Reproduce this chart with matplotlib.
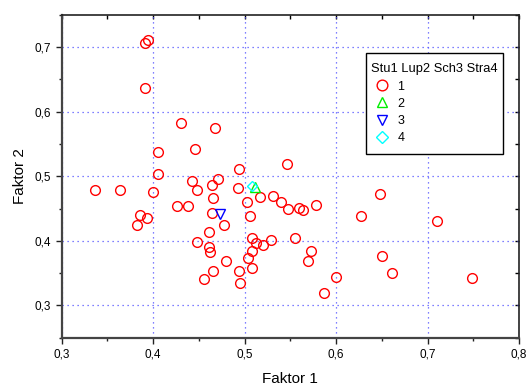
import matplotlib
matplotlib.use("Agg")
import matplotlib.pyplot as plt
from matplotlib.ticker import MultipleLocator, FuncFormatter

plt.rcParams['font.family'] = ['Liberation Sans', 'DejaVu Sans']

# group 1 (Stu1) - Faktor 1 / Faktor 2 scores
f1_g1 = [0.391, 0.394, 0.391, 0.430, 0.468, 0.405, 0.446, 0.405, 0.494, 0.443,
         0.471, 0.464, 0.448, 0.337, 0.364, 0.400, 0.493, 0.466, 0.426, 0.438,
         0.464, 0.386, 0.393, 0.382, 0.477, 0.461, 0.448, 0.461, 0.462, 0.480,
         0.466, 0.456, 0.494, 0.495, 0.503, 0.506, 0.508, 0.513, 0.508, 0.504,
         0.508, 0.517, 0.546, 0.531, 0.540, 0.548, 0.560, 0.564, 0.578, 0.648,
         0.627, 0.710, 0.520, 0.529, 0.555, 0.573, 0.569, 0.650, 0.661, 0.600,
         0.587, 0.749]
f2_g1 = [0.706, 0.711, 0.636, 0.583, 0.574, 0.537, 0.542, 0.504, 0.511, 0.492,
         0.496, 0.486, 0.479, 0.479, 0.479, 0.475, 0.482, 0.466, 0.454, 0.454,
         0.443, 0.440, 0.436, 0.425, 0.424, 0.414, 0.398, 0.390, 0.382, 0.369,
         0.353, 0.341, 0.353, 0.335, 0.460, 0.439, 0.405, 0.396, 0.385, 0.373,
         0.358, 0.468, 0.519, 0.469, 0.460, 0.450, 0.451, 0.447, 0.455, 0.472,
         0.439, 0.430, 0.394, 0.402, 0.405, 0.385, 0.369, 0.377, 0.350, 0.344,
         0.319, 0.343]
# group 2 (Lup2), 3 (Sch3), 4 (Stra4)
f1_g2 = [0.511]
f2_g2 = [0.484]
f1_g3 = [0.473]
f2_g3 = [0.441]
f1_g4 = [0.508]
f2_g4 = [0.4855]

fig = plt.figure(figsize=(5.28, 3.88), dpi=100)
ax = fig.add_axes([0.1167, 0.1296, 0.8663, 0.8325])

ms = 7
ax.plot(f1_g1, f2_g1, 'o', ms=ms, mfc='none', mec='red', mew=1.0, label='1')
ax.plot(f1_g2, f2_g2, '^', ms=ms, mfc='none', mec='#00ee00', mew=1.0, label='2')
ax.plot(f1_g3, f2_g3, 'v', ms=ms, mfc='none', mec='blue', mew=1.0, label='3')
ax.plot(f1_g4, f2_g4, 'D', ms=ms * 0.8, mfc='none', mec='cyan', mew=1.0, label='4')

ax.set_xlim(0.3, 0.8)
ax.set_ylim(0.25, 0.75)
ax.xaxis.set_major_locator(MultipleLocator(0.1))
ax.xaxis.set_minor_locator(MultipleLocator(0.05))
ax.yaxis.set_major_locator(MultipleLocator(0.1))
ax.yaxis.set_minor_locator(MultipleLocator(0.05))
comma = FuncFormatter(lambda v, p: ('%.1f' % v).replace('.', ','))
ax.xaxis.set_major_formatter(comma)
ax.yaxis.set_major_formatter(comma)

ax.grid(True, which='major', color='#5555ff', linestyle=(0, (1, 3)), linewidth=0.9)
ax.set_axisbelow(True)

ax.tick_params(which='both', direction='out', top=False, right=False,
               labelsize=8.5, color='#222222', width=1.0)
ax.tick_params(which='major', length=4.5)
ax.tick_params(which='minor', length=2.5)

# inward ticks on top and right
sec_x = ax.secondary_xaxis('top')
sec_x.xaxis.set_major_locator(MultipleLocator(0.05))
sec_x.tick_params(direction='in', length=3, labeltop=False, width=1.0)
sec_y = ax.secondary_yaxis('right')
sec_y.yaxis.set_major_locator(MultipleLocator(0.05))
sec_y.tick_params(direction='in', length=3, labelright=False, width=1.0)
for s in sec_x.spines.values():
    s.set_visible(False)
for s in sec_y.spines.values():
    s.set_visible(False)

for side in ['left', 'bottom']:
    ax.spines[side].set_color('#444444')
    ax.spines[side].set_linewidth(1.6)
for side in ['top', 'right']:
    ax.spines[side].set_color('#222222')
    ax.spines[side].set_linewidth(1.2)

ax.set_xlabel('Faktor 1', fontsize=11, labelpad=8)
ax.set_ylabel('Faktor 2', fontsize=11, labelpad=5)

leg = ax.legend(title='Stu1 Lup2 Sch3 Stra4', loc='upper left',
                bbox_to_anchor=(0.6655, 0.571, 0.3, 0.3095), mode='expand',
                fontsize=9, title_fontsize=9.3, fancybox=False,
                edgecolor='black', framealpha=1, borderpad=0.8,
                labelspacing=0.42, handlelength=1.0, handletextpad=0.7,
                borderaxespad=0, markerscale=1.1)
leg.get_frame().set_linewidth(1.0)

fig.savefig('out.png', dpi=100)
